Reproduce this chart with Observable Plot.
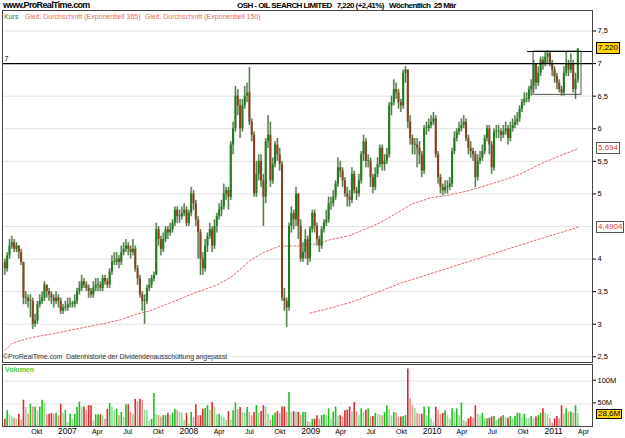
<!DOCTYPE html>
<html><head><meta charset="utf-8">
<script src="https://cdn.jsdelivr.net/npm/d3@7"></script>
<script src="https://cdn.jsdelivr.net/npm/@observablehq/plot@0.6"></script>
<style>
body{margin:0;background:#fff;}
#wrap{position:relative;width:625px;height:438px;overflow:hidden;font-family:"Liberation Sans",Arial,sans-serif;background:#fff;}
#wrap svg{position:absolute;left:0;overflow:visible;}
.abs{position:absolute;white-space:pre;}
.box{position:absolute;left:596px;height:10px;line-height:10px;font-size:8px;padding:0 1px;border:1px solid #000;transform:translateY(-50%);white-space:nowrap;}
</style></head><body><div id="wrap"></div>
<script>
// ---------- data ----------
const firstWeek = [2006, 6, 3];       // Monday of first weekly bar
const firstOpen = 3.95;
const close = [3.85,4.05,4.2,4.25,4.15,4.2,4.1,3.95,3.4,3.4,
3.35,3.35,3.0,3.05,3.3,3.35,3.4,3.6,3.5,3.45,
3.4,3.35,3.4,3.35,3.2,3.25,3.25,3.3,3.3,3.3,
3.35,3.5,3.55,3.65,3.6,3.55,3.5,3.45,3.55,3.6,
3.6,3.55,3.7,3.65,3.6,3.8,3.95,3.95,4.0,3.95,
4.1,4.15,4.2,4.15,4.1,4.15,3.85,3.7,3.45,3.35,
3.35,3.55,3.6,3.7,3.75,4.45,4.3,4.15,4.3,4.45,
4.4,4.45,4.55,4.75,4.65,4.65,4.7,4.75,4.55,4.7,
5.0,4.85,4.6,4.4,4.0,3.85,4.2,4.35,4.45,4.2,
4.5,4.65,4.75,4.8,5.0,5.05,4.95,5.75,6.0,6.5,
6.35,6.0,6.35,6.5,6.55,6.1,5.9,5.0,5.3,5.5,
5.2,4.95,5.8,5.9,5.2,5.45,5.75,5.6,5.45,3.4,
3.35,3.25,4.5,4.7,4.6,5.0,4.5,4.0,4.1,4.3,
4.0,4.45,4.7,4.5,4.3,4.2,4.45,4.55,4.6,4.85,
4.85,4.95,5.15,5.4,5.35,5.2,5.0,4.95,4.9,5.3,
5.05,5.0,5.2,5.6,5.8,5.5,5.5,5.25,5.1,5.3,
5.45,5.7,5.45,5.5,5.6,6.35,6.4,6.6,6.55,6.4,
6.35,6.85,6.9,6.1,5.85,5.75,5.75,5.7,5.6,5.35,
6.0,6.0,6.05,6.1,6.15,5.6,5.25,5.1,5.05,5.1,
5.1,5.15,5.65,5.85,5.95,6.0,6.05,6.1,5.85,5.7,
5.65,5.6,5.25,5.5,5.55,5.65,5.85,6.0,5.75,5.4,
5.95,5.95,5.95,5.9,5.95,6.0,5.85,6.0,6.05,6.1,
6.15,6.3,6.4,6.45,6.45,6.6,6.65,7.0,6.7,6.85,
7.05,7.0,7.1,7.15,7.0,6.9,6.8,6.7,6.6,6.55,
6.85,7.0,6.9,7.0,6.6,6.75,7.22];
const high = [4.0,4.1,4.3,4.35,4.3,4.25,4.2,4.15,3.95,3.5,
3.45,3.45,3.4,3.15,3.35,3.45,3.5,3.65,3.6,3.55,
3.5,3.45,3.5,3.45,3.4,3.3,3.35,3.4,3.4,3.35,
3.45,3.55,3.65,3.75,3.7,3.65,3.6,3.55,3.65,3.7,
3.7,3.65,3.75,3.75,3.7,3.85,4.05,4.1,4.1,4.05,
4.2,4.25,4.3,4.25,4.2,4.3,4.2,3.9,3.75,3.5,
3.45,3.6,3.7,3.75,3.8,4.55,4.5,4.35,4.4,4.5,
4.5,4.55,4.6,4.8,4.8,4.75,4.8,4.85,4.8,4.75,
5.1,5.05,4.9,4.65,4.45,4.1,4.3,4.4,4.55,4.5,
4.6,4.7,4.85,4.9,5.15,5.1,5.1,5.8,6.1,6.65,
6.6,6.45,6.45,6.65,6.7,6.94,6.15,5.95,5.5,5.6,
5.6,5.3,5.85,6.2,6.1,5.55,5.8,5.85,5.7,5.5,
3.55,3.4,4.55,4.8,4.75,5.1,5.0,4.6,4.25,4.45,
4.35,4.5,4.75,4.75,4.55,4.35,4.5,4.6,4.75,4.95,
4.95,5.05,5.2,5.55,5.5,5.4,5.25,5.1,5.05,5.4,
5.35,5.1,5.3,5.65,5.9,5.85,5.6,5.55,5.3,5.4,
5.55,5.75,5.75,5.6,5.7,6.4,6.5,6.75,6.7,6.6,
6.45,6.9,6.95,6.9,6.2,5.9,5.85,5.85,5.8,5.65,
6.05,6.1,6.15,6.2,6.25,6.2,5.65,5.3,5.15,5.2,
5.2,5.25,5.7,5.95,6.0,6.1,6.15,6.2,6.15,5.9,
5.8,5.7,5.65,5.6,5.65,5.75,5.9,6.05,6.05,5.8,
6.0,6.05,6.05,6.0,6.05,6.1,6.05,6.1,6.15,6.2,
6.25,6.35,6.45,6.55,6.55,6.65,6.75,7.05,7.0,6.95,
7.1,7.1,7.18,7.2,7.18,7.05,6.95,6.85,6.75,6.65,
6.95,7.18,7.05,7.15,7.05,6.85,7.23];
const low = [3.75,3.8,4.0,4.15,4.1,4.1,4.0,3.9,3.3,3.3,
3.25,3.1,2.92,2.95,3.0,3.25,3.3,3.35,3.4,3.35,
3.3,3.25,3.3,3.25,3.15,3.15,3.2,3.2,3.25,3.25,
3.25,3.3,3.45,3.5,3.55,3.5,3.4,3.4,3.4,3.5,
3.5,3.5,3.5,3.6,3.55,3.55,3.75,3.9,3.9,3.85,
3.9,4.05,4.1,4.05,4.0,4.05,3.8,3.6,3.4,3.2,
3.0,3.3,3.5,3.55,3.65,3.75,4.2,4.05,4.1,4.25,
4.3,4.35,4.4,4.5,4.55,4.55,4.6,4.65,4.5,4.5,
4.65,4.75,4.5,4.0,3.75,3.75,3.8,4.1,4.3,4.1,
4.15,4.4,4.6,4.65,4.75,4.9,4.75,4.9,5.6,5.95,
6.2,5.85,5.95,6.3,6.4,6.05,5.8,4.95,4.95,5.2,
5.1,4.5,4.85,5.7,5.1,5.15,5.4,5.5,5.35,3.35,
3.2,2.95,3.2,4.4,4.45,4.5,4.3,3.95,3.95,4.0,
3.9,3.95,4.4,4.4,4.2,4.1,4.15,4.4,4.5,4.55,
4.75,4.8,4.9,5.1,5.25,5.1,4.95,4.8,4.8,4.85,
5.0,4.9,4.95,5.15,5.5,5.4,5.4,5.1,5.0,5.05,
5.25,5.4,5.35,5.35,5.45,5.55,6.2,6.35,6.45,6.3,
6.25,6.3,6.7,6.0,5.75,5.6,5.6,5.4,5.45,5.25,
5.3,5.9,5.95,6.0,6.05,5.55,5.15,5.0,4.97,5.0,
5.0,5.05,5.1,5.6,5.8,5.9,5.95,6.0,5.8,5.6,
5.55,5.5,5.1,5.2,5.45,5.5,5.6,5.8,5.6,5.3,
5.35,5.85,5.85,5.8,5.85,5.9,5.75,5.8,5.95,6.0,
6.05,6.1,6.25,6.35,6.4,6.4,6.5,6.55,6.6,6.65,
6.8,6.9,6.95,7.0,6.95,6.8,6.7,6.6,6.55,6.5,
6.5,6.8,6.8,6.85,6.55,6.45,6.7];
// weekly volume in millions
const volume = [16,35,26,21,18,16,27,14,58,
42,27,49,43,43,35,43,58,51,27,27,29,27,29,
24,49,29,36,9,27,16,27,42,53,43,43,35,46,46,12,26,26,26,
24,16,38,51,43,35,38,24,31,20,48,48,31,27,
60,55,60,58,36,35,12,16,73,27,24,21,24,24,29,24,29,38,35,31,29,14,29,5,
31,20,48,24,24,38,40,46,36,53,42,26,27,24,20,14,33,14,35,
52,38,42,31,29,42,31,24,31,46,29,33,46,43,27,14,24,29,33,
29,43,43,31,75,31,33,31,31,24,31,31,11,9,16,16,24,16,
24,26,24,39,17,32,
43,22,24,
20,35,36,43,32,53,32,24,
39,32,36,39,21,22,29,27,26,
24,31,46,37,24,31,29,21,
21,22,24,127,61,46,39,29,27,27,43,24,43,17,10,43,
35,27,29,35,24,17,39,32,39,24,52,13,10,17,21,18,46,27,24,
29,17,17,18,21,22,13,17,21,24,18,18,22,17,
22,29,29,21,27,18,17,22,17,21,24,29,39,29,26,17,7,
17,22,17,46,27,39,32,32,29,46,28.6];
// moving averages, read at selected weeks
const ema150Week  = [0,3,7,12,20,27,34,41,50,56,62,69,76,83,91,97,102,105,111,118,126,133,140,148,160,168,175,184,189,198,204,213,221,230,238,246];
const ema150Value = [2.6,2.7,2.75,2.8,2.85,2.9,2.95,3.0,3.07,3.15,3.2,3.3,3.4,3.5,3.6,3.72,3.87,3.97,4.1,4.2,4.2,4.23,4.3,4.36,4.54,4.7,4.85,4.95,4.97,5.04,5.1,5.2,5.3,5.46,5.58,5.694];
const ema365Week  = [131,140,149,170,192,213,226,239,246];
const ema365Value = [3.17,3.25,3.34,3.63,3.88,4.12,4.27,4.41,4.4904];
// annotations
const resistance = 7;
const boxTop = 7.185, boxBottom = 6.52;
const boxStart = "2010-11-08", boxEnd = "2011-04-01", topLineStart = "2010-10-21";
// ticks / labels
const priceGrid = [2.5,3,3.5,4,4.5,5,5.5,6,6.5,7,7.5];
const priceTickLabels = [2.5,3,3.5,4,5,5.5,6,6.5,7,7.5];   // 4,5 is hidden behind the EMA box
const volTicks = [50,100];
const xTickDates = ["2006-10-01","2007-01-01","2007-04-01","2007-07-01","2007-10-01","2008-01-01","2008-04-01","2008-07-01","2008-10-01","2009-01-01","2009-04-01","2009-07-01","2009-10-01","2010-01-01","2010-04-01","2010-07-01","2010-10-01","2011-01-01","2011-04-01"];
const xTickLabels = ["Okt","2007","Apr","Jul","Okt","2008","Apr","Jul","Okt","2009","Apr","Jul","Okt","2010","Apr","Jul","Okt","2011","Apr"];
const siteLabel = "www.ProRealTime.com";
const titleName = "OSH - OIL SEARCH LIMITED";
const changeLabel = "(+2,41%)";
const periodLabel = "Wöchentlich  25 Mär";
const legendKurs = "Kurs";
const legendEma365 = "Gleit. Durchschnitt (Exponentiell 365)";
const legendEma150 = "Gleit. Durchschnitt (Exponentiell 150)";
const caption = "©ProRealTime.com  Datenhistorie der Dividendenausschüttung angepasst";
const volLabel = "Volumen";

// ---------- build ----------
const comma = v => String(v).replace(".", ",");
const wk = i => new Date(Date.UTC(firstWeek[0], firstWeek[1], firstWeek[2] + 7 * i));
const bars = close.map((c, i) => ({
  date: wk(i), open: i ? close[i - 1] : firstOpen, close: c, high: high[i], low: low[i], vol: volume[i],
  up: c >= (i ? close[i - 1] : firstOpen), volUp: i ? volume[i] >= volume[i - 1] : true
}));
const ema150 = ema150Week.map((w, i) => ({date: wk(w), v: ema150Value[i]}));
const ema365 = ema365Week.map((w, i) => ({date: wk(w), v: ema365Value[i]}));
const xT = xTickDates.map(s => new Date(s));
const xScale = {type: "utc", domain: [new Date("2006-06-26"), new Date("2011-05-04")], range: [2, 592]};
const FONT = '"Liberation Sans", Arial, sans-serif';
const emaColor = "#e26a6a";

const price = Plot.plot({
  width: 625, height: 363, marginTop: 10, marginRight: 33, marginBottom: 1, marginLeft: 2,
  style: {background: "transparent", fontFamily: FONT, overflow: "visible"},
  x: {...xScale, axis: null},
  y: {domain: [2.5, 7.5], range: [356.3, 30.5], axis: null},
  marks: [
    Plot.ruleY(priceGrid, {stroke: "#e3e3e3", strokeWidth: 1}),
    Plot.line(ema150, {x: "date", y: "v", stroke: emaColor, strokeWidth: 1, strokeDasharray: "2,2"}),
    Plot.line(ema365, {x: "date", y: "v", stroke: emaColor, strokeWidth: 1, strokeDasharray: "2,2"}),
    Plot.ruleX(bars, {x: "date", y1: "low", y2: "high", stroke: "#b7c9b2", strokeWidth: 2.2}),
    Plot.ruleX(bars, {x: "date", y1: "low", y2: "high", stroke: "#3f6b35", strokeWidth: 0.9}),
    Plot.ruleX(bars, {x: "date", y1: "open", y2: d => d.close === d.open ? d.close + 0.012 : d.close,
      stroke: d => d.up ? "#1d7d1d" : "#8a3f1e", strokeWidth: 2}),
    Plot.ruleY([resistance], {stroke: "#000", strokeWidth: 1.2}),
    Plot.text([resistance], {y: d => d, text: d => String(d), frameAnchor: "left", dx: 2, dy: -5, fontSize: 7, textAnchor: "start"}),
    Plot.rect([{a: new Date(boxStart), b: new Date(boxEnd), t: boxTop, u: boxBottom}], {x1: "a", x2: "b", y1: "u", y2: "t", fill: "none", stroke: "#555", strokeWidth: 1}),
    Plot.ruleY([boxTop], {x1: new Date(topLineStart), x2: xScale.domain[1], stroke: "#000", strokeWidth: 1}),
    Plot.frame({stroke: "#444", strokeWidth: 1}),
    Plot.axisY(priceTickLabels, {anchor: "right", tickSize: 3, tickPadding: 2, fontSize: 7.5, tickFormat: comma, label: null})
  ]
});

const vol = Plot.plot({
  width: 625, height: 75, marginTop: 1, marginRight: 33, marginBottom: 12, marginLeft: 2,
  style: {background: "transparent", fontFamily: FONT, overflow: "visible"},
  x: {...xScale, axis: null},
  y: {domain: [0, 100], range: [63, 17.7], axis: null},
  marks: [
    Plot.ruleY(volTicks, {stroke: "#e3e3e3", strokeWidth: 1}),
    Plot.ruleX(bars, {x: "date", y1: 0, y2: "vol", strokeWidth: 1.6,
      stroke: d => d.up ? (d.volUp ? "#1fbf1f" : "#8fdc8f") : (d.volUp ? "#dd2a2a" : "#eb9090")}),
    Plot.frame({stroke: "#444", strokeWidth: 1}),
    Plot.axisY(volTicks, {anchor: "right", tickSize: 3, tickPadding: 2, fontSize: 7.5, tickFormat: d => d + "M", label: null, dy: -1}),
    Plot.text(xT, {x: d => d, text: (d, i) => xTickLabels[i], frameAnchor: "bottom", dy: 7, dx: 2,
      fontSize: (d, i) => /^\d+$/.test(xTickLabels[i]) ? 8.5 : 7,
      fontWeight: (d, i) => /^\d+$/.test(xTickLabels[i]) ? "bold" : "normal"})
  ]
});

const wrap = document.getElementById("wrap");
price.style.top = "0px";
vol.style.top = "363px";
wrap.appendChild(price);
wrap.appendChild(vol);

function addText(txt, left, top, css) {
  const d = document.createElement("div");
  d.className = "abs"; d.textContent = txt;
  d.style.left = left + "px"; d.style.top = top + "px";
  Object.assign(d.style, css);
  wrap.appendChild(d); return d;
}
const last = close[close.length - 1];
addText(siteLabel, 3, 0, {fontSize: "9px", fontWeight: "bold", lineHeight: "11px", letterSpacing: "-0.65px"});
addText(`${titleName}   ${comma(last.toFixed(3))} ${changeLabel}   ${periodLabel}`, 237, 0, {fontSize: "8px", fontWeight: "bold", lineHeight: "11px", letterSpacing: "-0.55px"});
addText(legendKurs, 4, 12, {fontSize: "7px", color: "#2f7d2f", lineHeight: "9px"});
addText(legendEma365, 25, 12, {fontSize: "7px", color: emaColor, lineHeight: "9px"});
addText(legendEma150, 145, 12, {fontSize: "7px", color: emaColor, lineHeight: "9px"});
addText(caption, 3, 352, {fontSize: "7px", color: "#333", lineHeight: "9px", letterSpacing: "-0.1px"});
addText(volLabel, 5, 365, {fontSize: "7px", color: "#3fcf3f", fontWeight: "bold", lineHeight: "9px"});

const ys = price.scale("y"), yv = vol.scale("y");
function addBox(txt, y, css) {
  const d = document.createElement("div");
  d.className = "box"; d.textContent = txt; d.style.top = y + "px";
  Object.assign(d.style, css); wrap.appendChild(d);
}
addBox(comma(last.toFixed(3)), ys.apply(last) - 1, {background: "#ffd400", color: "#000"});
addBox(comma(ema150Value[ema150Value.length - 1]), ys.apply(ema150Value[ema150Value.length - 1]), {background: "#fff", color: "#e04040", borderColor: "#555"});
addBox(comma(ema365Value[ema365Value.length - 1]), ys.apply(ema365Value[ema365Value.length - 1]), {background: "#fff", color: "#e04040", borderColor: "#555"});
const lastVol = volume[volume.length - 1];
addBox(comma(lastVol) + "M", 363 + yv.apply(lastVol) + 1, {background: "#ffd400", color: "#000", height: "8px", lineHeight: "8px"});
</script></body></html>
